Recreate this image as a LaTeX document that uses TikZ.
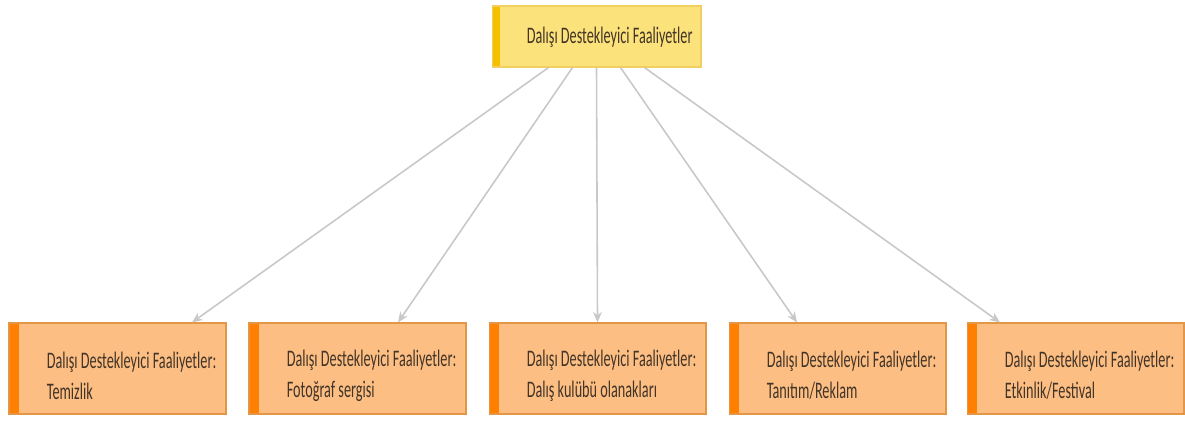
\documentclass[tikz,border=0pt]{standalone}
\usepackage{fontspec}
\newfontfamily\actfont[FakeStretch=0.6]{Carlito}
\usepackage{tikz}
\usetikzlibrary{positioning}
\usetikzlibrary{arrows.meta}
\definecolor{topfill}{RGB}{252,226,122}
\definecolor{topbar}{RGB}{246,192,0}
\definecolor{topline}{RGB}{240,208,96}
\definecolor{subfill}{RGB}{252,190,130}
\definecolor{subbar}{RGB}{255,128,0}
\definecolor{subline}{RGB}{226,150,70}
\definecolor{txt}{RGB}{66,52,40}
\definecolor{link}{RGB}{200,200,200}
\tikzset{head/.style={rectangle, fill=topfill, draw=topline, line width=0.6pt,
minimum width=4.18cm, minimum height=1.22cm, inner sep=0pt,
path picture={\fill[topbar] (path picture bounding box.north west)
rectangle ([xshift=0.16cm]path picture bounding box.south west);}},
activity/.style={rectangle, fill=subfill, draw=subline, line width=0.6pt,
minimum width=4.34cm, minimum height=1.82cm, inner sep=0pt,
path picture={\fill[subbar] (path picture bounding box.north west)
rectangle ([xshift=0.2cm]path picture bounding box.south west);}},
caption/.style={inner sep=0pt, align=left, text=txt, font=\actfont\fontsize{13.5}{17.5}\selectfont},
-/.style={color=link, line width=0.9pt},
>={Stealth[length=6pt,width=5pt]}}

\begin{document}
\begin{tikzpicture}[x=0.02cm,y=-0.02cm]
  \useasboundingbox (0,0) rectangle (1185,425);

  \node (top) [head] at (596.5,36.5) {};
  \node (toptxt) [caption, anchor=west] at ([xshift=0.7cm,yshift=-0.02cm]top.west) {Dalışı Destekleyici Faaliyetler};

  \node (clean) [activity] at (117.5,368.5) {};
  \node (photo) [activity] at (357.5,368.5) {};
  \node (club) [activity] at (597.5,368.5) {};
  \node (promo) [activity] at (837.5,368.5) {};
  \node (fest) [activity] at (1075.5,368.5) {};

  \node (captclean) [caption, right=0.76cm of clean.west, anchor=west, yshift=-0.14cm] {Dalışı Destekleyici Faaliyetler:\\Temizlik};
  \node (captphoto) [caption, right=0.76cm of photo.west, anchor=west, yshift=-0.14cm] {Dalışı Destekleyici Faaliyetler:\\Fotoğraf sergisi};
  \node (captclub) [caption, right=0.76cm of club.west, anchor=west, yshift=-0.14cm] {Dalışı Destekleyici Faaliyetler:\\Dalış kulübü olanakları};
  \node (captpromo) [caption, right=0.76cm of promo.west, anchor=west, yshift=-0.14cm] {Dalışı Destekleyici Faaliyetler:\\Tanıtım/Reklam};
  \node (captfest) [caption, right=0.76cm of fest.west, anchor=west, yshift=-0.14cm] {Dalışı Destekleyici Faaliyetler:\\Etkinlik/Festival};

  \draw [-,->] ([xshift=-0.96cm]top.south) -- ([xshift=1.49cm]clean.north);
  \draw [-,->] ([xshift=-0.48cm]top.south) -- ([xshift=0.81cm]photo.north);
  \draw [-,->] (top.south) -- (club.north);
  \draw [-,->] ([xshift=0.48cm]top.south) -- ([xshift=-0.81cm]promo.north);
  \draw [-,->] ([xshift=0.96cm]top.south) -- ([xshift=-1.51cm]fest.north);
\end{tikzpicture}
\end{document}
